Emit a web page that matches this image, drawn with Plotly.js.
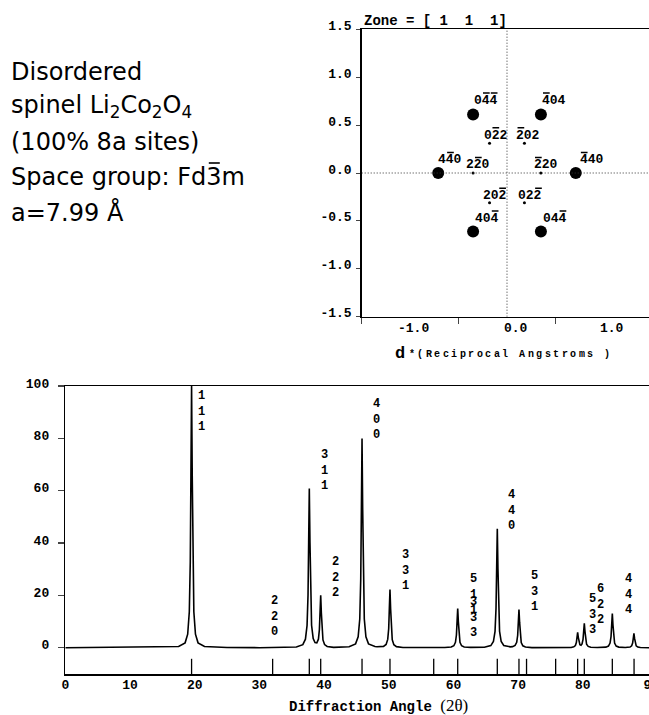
<!DOCTYPE html>
<html>
<head>
<meta charset="utf-8">
<script src="https://cdn.plot.ly/plotly-3.0.1.min.js"></script>
<style>html,body{margin:0;padding:0;background:#fff;}#chart{width:649px;height:715px;}</style>
</head>
<body>
<div id="chart"></div>
<script>
// ---------- DATA ----------
// Simulated powder pattern: [2theta, relative intensity]
const profilePoints = [
  [0,0.05],[17.52,0.5],[18.52,1.9],[18.92,5.2],[19.17,13.8],[19.32,32.9],[19.42,66.2],[19.52,100],[19.62,66.2],[19.72,32.9],[19.87,13.8],[20.12,5.2],[20.52,1.9],[21.52,0.5],[25,0.12],[30,0.05],
  [35.72,0.33],[36.72,1.2],[37.12,3.3],[37.37,8.5],[37.52,20.1],[37.62,40.3],[37.72,60.8],[37.82,40.3],[37.92,20.1],[38.07,8.6],[38.32,3.5],[38.6,2.0],[38.88,1.9],[39.13,3.3],[39.28,7.0],[39.38,13.5],[39.48,20.1],[39.58,13.4],[39.68,6.8],[39.83,3.0],[40.08,1.25],[40.48,0.53],[41.48,0.17],
  [43.87,0.4],[44.87,1.5],[45.27,4.2],[45.52,11.0],[45.67,26.3],[45.77,52.9],[45.87,79.9],[45.97,52.9],[46.07,26.3],[46.22,11.0],[46.47,4.2],[46.87,1.5],[47.87,0.5],
  [48.19,0.4],[49.19,0.56],[49.59,1.3],[49.84,3.2],[49.99,7.3],[50.09,14.8],[50.19,22.3],[50.29,14.8],[50.39,7.3],[50.54,3.1],[50.79,1.2],[51.19,0.45],[52.19,0.15],[55,0.05],
  [58.66,0.1],[59.66,0.3],[60.06,0.8],[60.31,2.1],[60.46,4.9],[60.56,9.9],[60.66,15.0],[60.76,9.9],[60.86,4.9],[61.01,2.1],[61.26,0.8],[61.66,0.33],[62.66,0.17],
  [64.78,0.22],[65.78,0.86],[66.18,2.4],[66.43,6.3],[66.58,15.0],[66.68,30.1],[66.78,45.5],[66.88,30.1],[66.98,15.0],[67.13,6.3],[67.38,2.4],[67.78,0.9],[68.78,0.37],
  [69.13,0.44],[69.53,0.9],[69.78,2.1],[69.93,4.8],[70.03,9.7],[70.13,14.6],[70.23,9.7],[70.33,4.8],[70.48,2.0],[70.73,0.76],[71.13,0.28],[72.13,0.07],[75,0.03],
  [77.2,0.05],[78.2,0.15],[78.6,0.37],[78.85,0.88],[79.0,2.0],[79.1,3.9],[79.2,5.9],[79.3,4.0],[79.4,2.1],[79.55,1.2],[79.72,1.0],[79.88,1.5],[80.03,3.2],[80.13,6.3],[80.23,9.4],[80.33,6.3],[80.43,3.1],[80.58,1.35],[80.83,0.53],[81.23,0.2],[82.23,0.1],
  [82.56,0.1],[83.56,0.25],[83.96,0.68],[84.21,1.8],[84.36,4.3],[84.46,8.7],[84.56,13.1],[84.66,8.7],[84.76,4.3],[84.91,1.8],[85.16,0.68],[85.56,0.27],[86.56,0.12],
  [86.9,0.15],[87.3,0.29],[87.55,0.76],[87.7,1.8],[87.8,3.6],[87.9,5.5],[88.0,3.6],[88.1,1.8],[88.25,0.76],[88.5,0.29],[88.9,0.1],[90.3,0.03]
];
// Reflection positions (tick marks under the pattern)
const reflection2Theta = [19.52,32.05,37.72,39.48,45.87,50.19,56.95,60.66,66.78,70.13,71.3,75.8,79.2,80.23,84.56,87.92];
// Peak index labels
const peakLabels = ["111","220","311","222","400","331","511","333","440","531","622","533","444"];
const xTicks = [0,10,20,30,40,50,60,70,80,90];
const xTickText = ["0","10","20","30","40","50","60","70","80","9"];
const yTicks = [0,20,40,60,80,100];

// Electron diffraction spots, zone [1 1 1] (d*, reciprocal Angstroms)
const spotX     = [-0.35, 0.35, -0.71, 0.71, -0.35, 0.35, -0.18, 0.18, -0.35, 0.35, -0.18, 0.18];
const spotY     = [ 0.61, 0.61,  0.00, 0.00, -0.61,-0.61,  0.31, 0.31,  0.00, 0.00, -0.31,-0.31];
const spotKind  = ["strong","strong","strong","strong","strong","strong","weak","weak","weak","weak","weak","weak"];
const spotLabel = ["044","404","440","440","404","044","022","202","220","220","202","022"];
// which digits of each index carry a bar (negative index)
const spotBars  = [[1,2],[0],[1],[0],[2],[2],[1],[0],[1],[0],[2],[2]];
const dTicks = [-1.5,-1.0,-0.5,0.0,0.5,1.0,1.5];
const dTickText = ["-1.5","-1.0","-0.5","0.0","0.5","1.0","1.5"];
const dXLabels = ["-1.0","0.0","1.0"];
const dAxisTitle = "*(Reciprocal Angstroms )";
const infoLines = ["Disordered","spinel Li<sub>2</sub>Co<sub>2</sub>O<sub>4</sub>","(100% 8a sites)","Space group: Fd3m","a=7.99 \u00C5"];

// ---------- LAYOUT HELPERS ----------
const W = 649, H = 715;
const fx = p => p / W;
const fy = p => 1 - p / H;
const MONO = "Liberation Mono, DejaVu Sans Mono, monospace";
const monoFont = (s) => ({family: MONO, size: s, color: "#000", weight: "bold"});

const traces = [];
traces.push({
  x: profilePoints.map(p => p[0]), y: profilePoints.map(p => p[1]),
  type: "scatter", mode: "lines", line: {color: "#000", width: 1.6},
  xaxis: "x", yaxis: "y", hoverinfo: "skip"
});
traces.push({
  x: reflection2Theta, y: reflection2Theta.map(() => -7.4),
  type: "scatter", mode: "markers",
  marker: {symbol: "line-ns-open", size: 12, color: "#000", line: {color: "#000", width: 1.3}},
  xaxis: "x", yaxis: "y", hoverinfo: "skip", cliponaxis: false
});
const strongIdx = spotKind.map((k,i)=>k==="strong"?i:-1).filter(i=>i>=0);
const weakIdx = spotKind.map((k,i)=>k==="weak"?i:-1).filter(i=>i>=0);
traces.push({
  x: strongIdx.map(i=>spotX[i]), y: strongIdx.map(i=>spotY[i]),
  type: "scatter", mode: "markers", marker: {size: 12, color: "#000"},
  xaxis: "x2", yaxis: "y2", hoverinfo: "skip"
});
traces.push({
  x: weakIdx.map(i=>spotX[i]), y: weakIdx.map(i=>spotY[i]),
  type: "scatter", mode: "markers", marker: {size: 3, color: "#000"},
  xaxis: "x2", yaxis: "y2", hoverinfo: "skip"
});

const annotations = [];
const shapes = [
  {type: "line", xref: "x2", yref: "y2", x0: 0, x1: 0, y0: -1.5, y1: 1.5, line: {color: "#333", width: 1, dash: "1px,2px"}},
  {type: "line", xref: "x2", yref: "y2", x0: -1.5, x1: 1.5, y0: 0, y1: 0, line: {color: "#333", width: 1, dash: "1px,2px"}}
];
// left info text
const INFO_SIZE = 24;
const infoMid = [72, 107, 142, 177, 212];
infoLines.forEach((t, i) => annotations.push({
  xref: "paper", yref: "paper", x: fx(9), y: fy(infoMid[i]), xanchor: "left", yanchor: "middle",
  text: t, showarrow: false, font: {family: "DejaVu Sans, sans-serif", size: INFO_SIZE, color: "#000"}
}));
// bar over the "3" of Fd-3m (DejaVu Sans advance of "Space group: Fd" = 8.158 em)
const barStart = 11 + 8.158 * INFO_SIZE;
shapes.push({type: "line", xref: "paper", yref: "paper", x0: fx(barStart + 2), x1: fx(barStart + 13),
  y0: fy(infoMid[3] - 14), y1: fy(infoMid[3] - 14), line: {color: "#000", width: 1.6}});

// peak labels (positions in data units of the bottom chart)
const labelPos = [[21.13,90.4],[32.31,12.1],[40.04,67.7],[41.8,26.7],[48.18,87.2],[52.56,29.4],
                  [63.07,20.4],[63.07,11.6],[69.05,52.6],[72.56,21.6],[82.66,16.4],[81.47,12.7],[87.03,20.2]];
peakLabels.forEach((l, i) => annotations.push({
  xref: "x", yref: "y", x: labelPos[i][0], y: labelPos[i][1], xanchor: "center", yanchor: "middle",
  text: l.split("").join("<br>"), showarrow: false, font: monoFont(12)
}));
// spot labels with overbars
const CH = 7.8; // char advance of 13px Liberation Mono
const spotOff = [[13,14],[13,14],[12,13],[16,13],[14,13],[14,13],[6,8],[4,8],[5,8],[5,8],[5,7],[6,7]];
spotLabel.forEach((l, i) => {
  annotations.push({
    xref: "x2", yref: "y2", x: spotX[i], y: spotY[i], xshift: spotOff[i][0], yshift: spotOff[i][1],
    xanchor: "center", yanchor: "middle", text: l, showarrow: false, font: monoFont(13)
  });
  const left = spotOff[i][0] - l.length * CH / 2;
  spotBars[i].forEach(k => shapes.push({
    type: "line", xref: "x2", yref: "y2", xsizemode: "pixel", ysizemode: "pixel",
    xanchor: spotX[i], yanchor: spotY[i],
    x0: left + k * CH + 0.8, x1: left + (k + 1) * CH - 0.3,
    y0: spotOff[i][1] + 7.5, y1: spotOff[i][1] + 7.5, line: {color: "#000", width: 1.4}
  }));
});
// top chart x labels
const dXLabelPos = [413, 516, 612];
dXLabels.forEach((l, i) => annotations.push({
  xref: "paper", yref: "paper", x: fx(dXLabelPos[i]), y: fy(328), xanchor: "center", yanchor: "middle",
  text: l, showarrow: false, font: monoFont(13)
}));
annotations.push({
  xref: "paper", yref: "paper", x: fx(362), y: fy(21), xanchor: "left", yanchor: "middle",
  text: "Zone = [ 1  1  1]", showarrow: false, font: monoFont(14)
});
annotations.push({
  xref: "paper", yref: "paper", x: fx(400), y: fy(353), xanchor: "center", yanchor: "middle",
  text: "d", showarrow: false, font: monoFont(17)
});
// widely spaced small letters of the d* axis title
dAxisTitle.split("").forEach((c, i) => {
  if (c === " ") return;
  annotations.push({
    xref: "paper", yref: "paper", x: fx(411.7 + 8.5 * i), y: fy(354), xanchor: "center", yanchor: "middle",
    text: c, showarrow: false, font: {family: MONO, size: 10, color: "#000", weight: "bold"}
  });
});
annotations.push({
  xref: "paper", yref: "paper", x: fx(378), y: fy(705), xanchor: "center", yanchor: "middle",
  text: "Diffraction Angle <span style='font-family:Liberation Serif, serif;font-weight:normal;font-size:17px'>(2\u03B8)</span>",
  showarrow: false, font: monoFont(14)
});

const layout = {
  width: W, height: H, margin: {l: 0, r: 0, t: 0, b: 0},
  paper_bgcolor: "#fff", plot_bgcolor: "rgba(0,0,0,0)", showlegend: false,
  xaxis: {domain: [fx(65.3), 1], range: [0, 90.23], anchor: "y", showline: true, linewidth: 1.5, linecolor: "#000",
          mirror: true, ticks: "", tickvals: xTicks, ticktext: xTickText, ticklabeloverflow: "allow",
          showgrid: false, zeroline: false, tickfont: monoFont(13), ticklabelstandoff: -2},
  yaxis: {domain: [fy(674), fy(386)], range: [-10, 100], anchor: "x", showline: true, linewidth: 1.5, linecolor: "#000",
          ticks: "outside", ticklen: 6, tickwidth: 1.2, tickvals: yTicks, showgrid: false, zeroline: false,
          tickfont: monoFont(13), ticklabelstandoff: 6, ticklabelshift: -3},
  xaxis2: {domain: [fx(361.7), 1], range: [-1.5, 1.466], anchor: "y2", showline: true, linewidth: 1.5, linecolor: "#000",
           mirror: true, ticks: "outside", ticklen: 6, tickvals: [-1.5,-0.5,0.5], showticklabels: false,
           showgrid: false, zeroline: false},
  yaxis2: {domain: [fy(316.7), fy(29.3)], range: [-1.5, 1.5], anchor: "x2", showline: true, linewidth: 1.5, linecolor: "#000",
           ticks: "outside", ticklen: 4, tickvals: dTicks, ticktext: dTickText, showgrid: false, zeroline: false,
           tickfont: monoFont(13), ticklabelstandoff: 2, ticklabelshift: -4},
  annotations: annotations, shapes: shapes
};

Plotly.newPlot("chart", traces, layout, {staticPlot: true, displayModeBar: false});
</script>
</body>
</html>
